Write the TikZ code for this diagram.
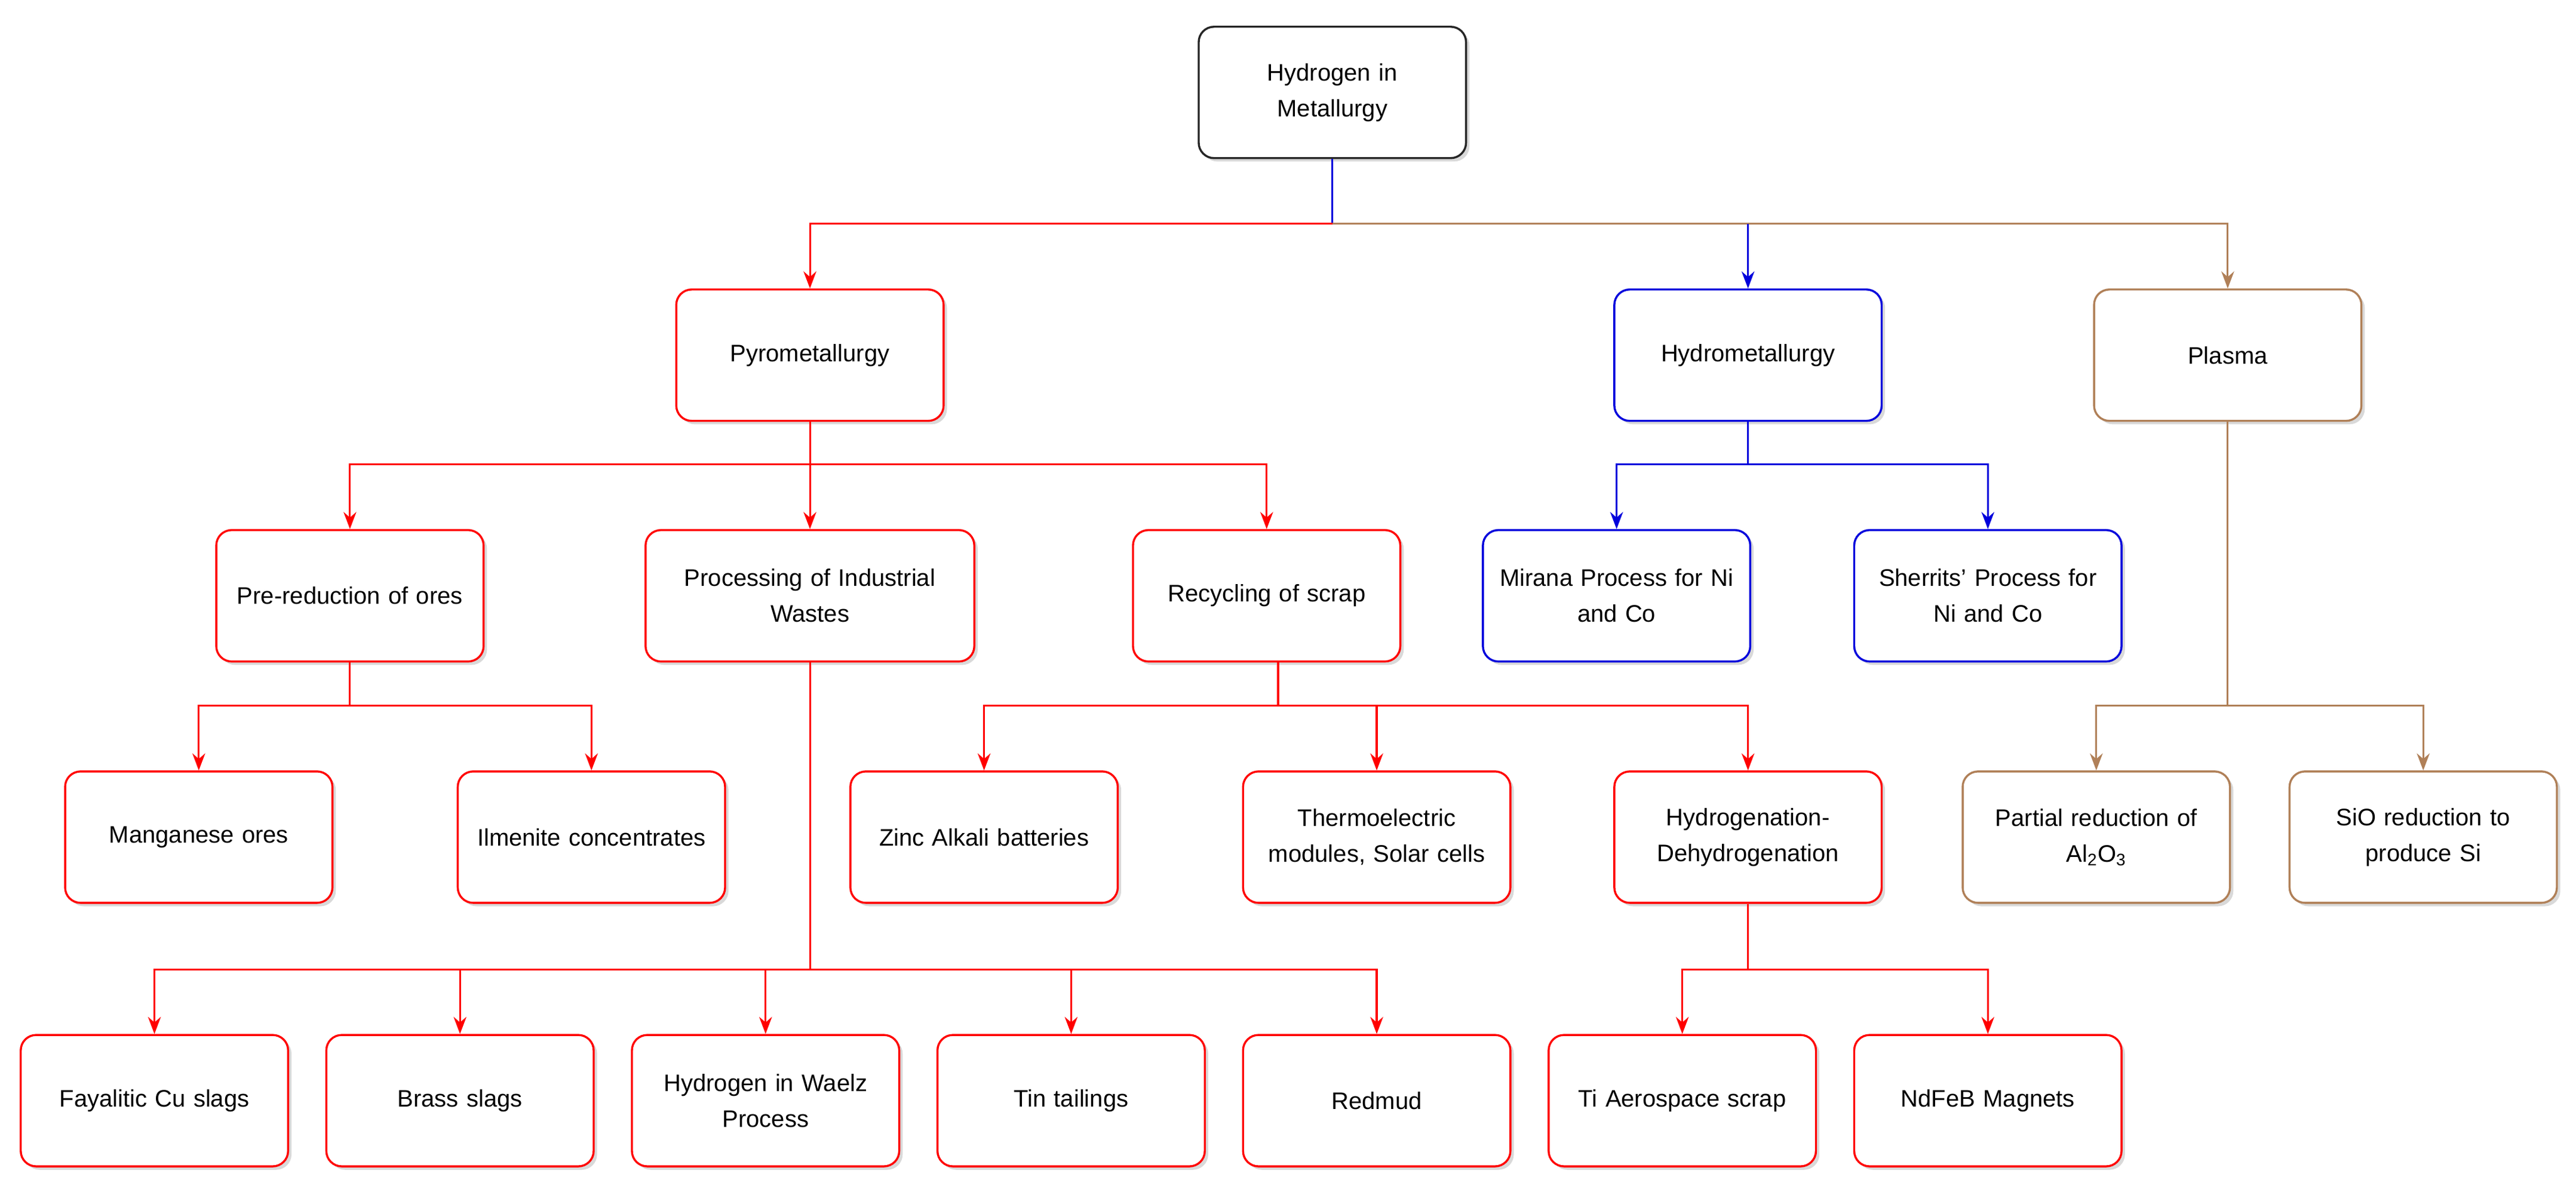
\documentclass[tikz,border=0pt]{standalone}
\usepackage{fontspec}
\setmainfont{Liberation Sans}
\usetikzlibrary{arrows.meta,shadows}
\definecolor{rd}{RGB}{255,0,0}
\definecolor{bl}{RGB}{0,0,220}
\definecolor{br}{RGB}{176,128,88}
\begin{document}
\begin{tikzpicture}[x=0.9628pt,y=-0.4477pt,
  box/.style={draw=#1,line width=1.2pt,rounded corners=9pt,fill=white,minimum width=152pt,minimum height=77pt,align=center,font=\fontsize{14}{21}\selectfont,text width=150pt,drop shadow={shadow xshift=2pt,shadow yshift=-2pt,fill=black!25,opacity=0.6}},
  conn/.style={draw=#1,line width=1.1pt,-{Stealth[length=10pt,width=7.5pt]}},
  ln/.style={draw=#1,line width=1.1pt}]
\useasboundingbox (0,0) rectangle (1568,1560);
% nodes
\node[box=black!85] (root) at (811,121) {Hydrogen in\\Metallurgy};
\node[box=rd] (pyro) at (493,465) {Pyrometallurgy};
\node[box=bl] (hydro) at (1064,465) {Hydrometallurgy};
\node[box=br] (plasma) at (1356,465) {Plasma};
\node[box=rd] (prered) at (213,780) {Pre-reduction of ores};
\node[box=rd,minimum width=190pt,text width=186pt] (proc) at (493,780) {Processing of Industrial\\Wastes};
\node[box=rd] (recyc) at (771,780) {Recycling of scrap};
\node[box=bl] (mirana) at (984,780) {Mirana Process for Ni\\and Co};
\node[box=bl] (sherr) at (1210,780) {Sherrits' Process for\\Ni and Co};
\node[box=rd] (mang) at (121,1096) {Manganese ores};
\node[box=rd] (ilm) at (360,1096) {Ilmenite concentrates};
\node[box=rd] (zinc) at (599,1096) {Zinc Alkali batteries};
\node[box=rd] (thermo) at (838,1096) {Thermoelectric\\modules, Solar cells};
\node[box=rd] (hydrog) at (1064,1096) {Hydrogenation-\\Dehydrogenation};
\node[box=br] (partial) at (1276,1096) {Partial reduction of\\Al\textsubscript{2}O\textsubscript{3}};
\node[box=br] (sio) at (1475,1096) {SiO reduction to\\produce Si};
\node[box=rd] (fay) at (94,1441) {Fayalitic Cu slags};
\node[box=rd] (brass) at (280,1441) {Brass slags};
\node[box=rd] (waelz) at (466,1441) {Hydrogen in Waelz\\Process};
\node[box=rd] (tin) at (652,1441) {Tin tailings};
\node[box=rd] (redmud) at (838,1441) {Redmud};
\node[box=rd] (ti) at (1024,1441) {Ti Aerospace scrap};
\node[box=rd] (ndfeb) at (1210,1441) {NdFeB Magnets};
% branch coordinates
\coordinate (b0) at (811,293);
\coordinate (bp) at (493,608);
\coordinate (bh) at (1064,608);
\coordinate (bpl) at (1356,924);
\coordinate (bpr) at (213,924);
\coordinate (brc) at (778,924);
\coordinate (bpc) at (493,1269);
\coordinate (bhd) at (1064,1269);
% root
\draw[ln=bl] (root.south) -- (b0);
\draw[conn=rd] (b0) -| (pyro.north);
\draw[conn=br] (b0) -| (plasma.north);
\draw[conn=bl] (hydro.north |- b0) -- (hydro.north);
% pyro
\draw[ln=rd] (pyro.south) -- (bp);
\draw[conn=rd] (bp) -| (prered.north);
\draw[conn=rd] (bp) -- (proc.north);
\draw[conn=rd] (bp) -| (recyc.north);
% hydro
\draw[ln=bl] (hydro.south) -- (bh);
\draw[conn=bl] (bh) -| (mirana.north);
\draw[conn=bl] (bh) -| (sherr.north);
% plasma
\draw[ln=br] (plasma.south) -- (bpl);
\draw[conn=br] (bpl) -| (partial.north);
\draw[conn=br] (bpl) -| (sio.north);
% prered
\draw[ln=rd] (prered.south) -- (bpr);
\draw[conn=rd] (bpr) -| (mang.north);
\draw[conn=rd] (bpr) -| (ilm.north);
% recycling
\draw[ln=rd] (recyc.south -| brc) -- (brc);
\draw[conn=rd] (brc) -| (zinc.north);
\draw[conn=rd] (brc) -| (thermo.north);
\draw[conn=rd] (brc) -| (hydrog.north);
% processing
\draw[ln=rd] (proc.south) -- (bpc);
\draw[conn=rd] (bpc) -| (fay.north);
\draw[conn=rd] (bpc) -| (brass.north);
\draw[conn=rd] (bpc) -| (waelz.north);
\draw[conn=rd] (bpc) -| (tin.north);
\draw[conn=rd] (bpc) -| (redmud.north);
% hydrogenation
\draw[ln=rd] (hydrog.south) -- (bhd);
\draw[conn=rd] (bhd) -| (ti.north);
\draw[conn=rd] (bhd) -| (ndfeb.north);
\end{tikzpicture}
\end{document}
